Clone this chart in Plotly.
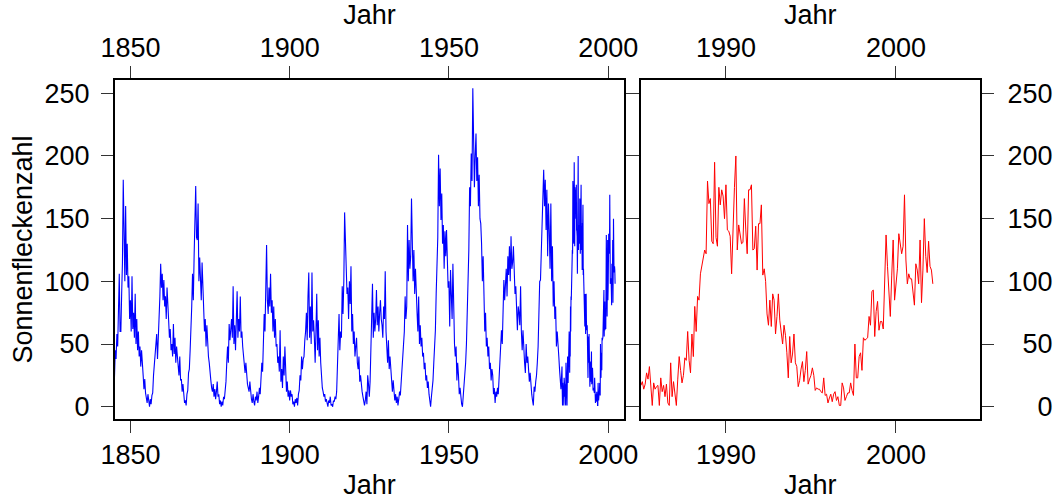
import numpy as np
import plotly.graph_objects as go

# Sunspot numbers, quarterly samples 1845-1984 (four per year)
hist_start = 1845
hist_vals = [
    24, 45, 38, 58,  48, 69, 106, 60,  60, 90, 115, 181,  150, 100, 160, 105,
    130, 95, 104, 70,  85, 60, 104, 62,  75, 55, 90, 50,  70, 45, 60, 40,
    48, 32, 45, 27,  25, 14, 22, 11,  8, 3, 10, 2,  0, 6, 2, 9,
    11, 25, 32, 40,  45, 58, 38, 55,  60, 88, 114, 95,  106, 85, 101, 80,
    88, 70, 95, 74,  69, 55, 62, 45,  50, 40, 66, 42,  55, 35, 48, 40,
    33, 25, 40, 21,  22, 12, 18, 8,  3, 5, 1, 10,  13, 27, 30, 45,
    58, 80, 106, 85,  120, 162, 176, 135,  133, 162, 100, 119,  100, 85, 115, 92,
    75, 60, 70, 48,  65, 50, 40, 35,  30, 21, 15, 12,  18, 8, 14, 6,
    12, 20, 8, 10,  2, 5, 0, 4,  1, 8, 6, 12,  20, 35, 48, 35,
    66, 53, 60, 70,  55, 96, 50, 65,  45, 80, 92, 55,  70, 60, 88, 55,
    60, 48, 40, 35,  27, 35, 22, 18,  15, 12, 20, 8,  6, 3, 10, 4,
    1, 8, 5, 12,  3, 8, 15, 10,  20, 35, 28, 45,  74, 60, 101, 129,
    85, 74, 95, 80,  106, 75, 85, 60,  80, 55, 70, 48,  50, 35, 40, 28,
    61, 20, 30, 15,  40, 25, 48, 18,  12, 20, 8, 13,  5, 13, 8, 10,
    2, 4, 0, 6,  3, 7, 1, 10,  13, 25, 21, 40,  30, 38, 40, 53,
    60, 75, 53, 88,  107, 55, 80, 50,  107, 60, 69, 55,  35, 60, 90, 45,
    69, 40, 55, 35,  21, 15, 12, 8,  10, 4, 6, 2,  0, 5, 3, 8,
    1, 2, 0, 5,  4, 8, 6, 12,  35, 50, 74, 45,  60, 55, 96, 74,
    100, 155, 130, 110,  90, 95, 70, 100,  82, 112, 60, 74,  50, 60, 40, 48,
    55, 35, 30, 40,  20, 25, 15, 12,  8, 3, 1, 5,  12, 2, 25, 18,
    8, 20, 40, 69,  98, 55, 75, 60,  70, 93, 65, 80,  60, 75, 85, 70,
    65, 55, 80, 70,  108, 60, 45, 35,  53, 30, 40, 27,  20, 12, 21, 8,
    5, 10, 3, 8,  1, 6, 12, 9,  20, 30, 40, 48,  60, 88, 70, 80,
    145, 100, 133, 110,  120, 166, 117, 100,  125, 90, 110, 80,  75, 60, 88, 50,
    65, 48, 55, 40,  43, 30, 35, 21,  25, 15, 20, 10,  5, 0, 8, 13,
    21, 35, 50, 61,  90, 114, 135, 201,  160, 190, 149, 170,  130, 145, 110, 140,
    120, 141, 110, 95,  100, 64, 109, 75,  70, 114, 55, 50,  40, 48, 21, 35,
    25, 10, 15, 5,  2, 0, 8, 13,  20, 35, 50, 74,  90, 125, 175, 160,
    202, 180, 254, 190,  175, 200, 218, 180,  199, 160, 185, 150,  146, 130, 100, 120,
    88, 60, 75, 48,  55, 40, 48, 30,  35, 21, 30, 25,  10, 15, 3, 12,
    8, 15, 10, 21,  30, 45, 61, 50,  75, 101, 85, 95,  110, 88, 120, 105,
    128, 100, 136, 110,  115, 128, 100, 90,  96, 70, 61, 80,  75, 65, 96, 60,
    45, 61, 40, 35,  27, 50, 35, 40,  30, 20, 27, 15,  10, 5, 1, 16,
    12, 20, 25, 35,  48, 74, 100, 101,  120, 138, 170, 189,  160, 181, 141, 173,
    120, 162, 141, 110,  162, 100, 128, 80,  100, 70, 80, 48,  60, 53, 40, 29,
]

# Monthly sunspot numbers from January 1985
recent_start = 1985
recent_vals = [
    17, 20, 14, 18, 27, 22, 32, 12, 1, 19, 14, 16,
    17, 1, 23, 12, 17, 8, 18, 3, 1, 35, 8, 20,
    11, 1, 22, 40, 29, 19, 25, 39, 37, 60, 37, 27,
    58, 40, 80, 60, 88, 85, 106, 113, 117, 125, 122, 180,
    162, 166, 132, 130, 195, 135, 128, 175, 161, 173, 168, 150,
    177, 141, 140, 136, 106, 152, 175, 200, 125, 145, 137, 130,
    131, 166, 141, 122, 173, 173, 177, 125, 126, 144, 109, 146,
    146, 161, 105, 110, 100, 74, 65, 85, 64, 90, 85, 58,
    72, 90, 69, 61, 50, 65, 57, 43, 23, 56, 35, 42,
    58, 35, 32, 16, 21, 30, 36, 20, 29, 44, 18, 22,
    25, 31, 25, 13, 15, 14, 14, 12, 11, 23, 9, 10,
    3, 7, 10, 4, 10, 12, 5, 8, 1, 1, 19, 15,
    5, 8, 11, 11, 19, 13, 9, 50, 23, 23, 40, 43,
    29, 55, 53, 54, 55, 72, 65, 92, 93, 56, 76, 84,
    61, 68, 68, 62, 100, 137, 112, 90, 72, 105, 133, 85,
    96, 110, 138, 128, 122, 128, 169, 117, 98, 106, 102, 102,
    90, 81, 114, 109, 98, 133, 83, 109, 150, 120, 107, 132,
    112, 109, 98,
]

year_ticks = [1850, 1900, 1950, 2000]
zoom_ticks = [1990, 2000]
count_ticks = [0, 50, 100, 150, 200, 250]

hist_x = hist_start + np.arange(len(hist_vals)) / 4
recent_x = recent_start + np.arange(len(recent_vals)) / 12
all_x = np.concatenate([hist_x, recent_x])
all_y = np.concatenate([hist_vals, recent_vals])

FONT = "Liberation Sans, Arial, Helvetica, sans-serif"
FS = 27
Y_RANGE = [-9.8, 260.6]

fig = go.Figure()
fig.add_trace(go.Scatter(x=all_x, y=all_y, mode="lines",
                         line=dict(color="#0000ff", width=1.1),
                         xaxis="x", yaxis="y", hoverinfo="skip"))
fig.add_trace(go.Scatter(x=recent_x, y=recent_vals, mode="lines",
                         line=dict(color="#ff0000", width=1),
                         xaxis="x2", yaxis="y2", hoverinfo="skip"))
# empty traces so the top axes are laid out
fig.add_trace(go.Scatter(x=[], y=[], xaxis="x3", yaxis="y"))
fig.add_trace(go.Scatter(x=[], y=[], xaxis="x4", yaxis="y2"))

frame = dict(showline=True, linewidth=2, linecolor="black", mirror="ticks",
             ticks="outside", ticklen=12, tickwidth=1, tickcolor="#333333",
             showgrid=False, zeroline=False, automargin=False,
             tickfont=dict(family=FONT, size=FS, color="black"))
top = dict(side="top", showline=False, ticks="", showgrid=False, zeroline=False,
           automargin=False,
           tickfont=dict(family=FONT, size=FS, color="black"))
title_font = dict(family=FONT, size=FS, color="black")

# right-hand labels are right aligned by padding with no-break spaces
pad = "\u00a0\u00a0"
right_text = [pad * (3 - len(str(v))) + str(v) for v in count_ticks]

fig.update_layout(
    width=1055, height=500,
    margin=dict(l=115.3, r=75, t=80, b=81, autoexpand=False),
    paper_bgcolor="white", plot_bgcolor="white",
    showlegend=False,
    xaxis=dict(**frame, domain=[0, 0.5883], anchor="y", range=[1845.16, 2004.93],
               tickvals=year_ticks, ticklabelstandoff=-1,
               title=dict(text="Jahr", font=title_font, standoff=10)),
    xaxis3=dict(**top, overlaying="x", anchor="y", range=[1845.16, 2004.93],
                tickvals=year_ticks, ticklabelstandoff=17,
                title=dict(text="Jahr", font=title_font, standoff=1)),
    xaxis2=dict(**frame, domain=[0.6076, 1], anchor="y2", range=[1984.98, 2004.94],
                tickvals=zoom_ticks, ticklabelstandoff=-1,
                title=dict(text="Jahr", font=title_font, standoff=10)),
    xaxis4=dict(**top, overlaying="x2", anchor="y2", range=[1984.98, 2004.94],
                tickvals=zoom_ticks, ticklabelstandoff=17,
                title=dict(text="Jahr", font=title_font, standoff=1)),
    yaxis=dict(**frame, domain=[0, 1], anchor="x", range=Y_RANGE,
               tickvals=count_ticks, ticklabelstandoff=6,
               title=dict(text="Sonnenfleckenzahl", font=title_font, standoff=4)),
    yaxis2=dict(**frame, domain=[0, 1], anchor="x2", side="right", range=Y_RANGE,
                tickvals=count_ticks, ticktext=right_text, ticklabelstandoff=8),
)

fig.write_html("out.html")
